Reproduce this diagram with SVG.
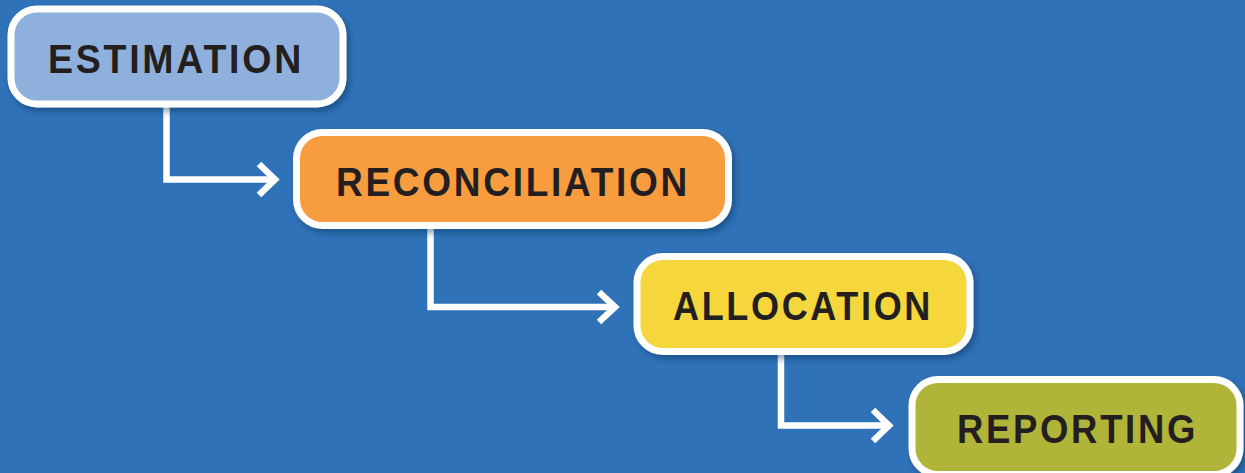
<svg xmlns="http://www.w3.org/2000/svg" width="1245" height="473" viewBox="0 0 1245 473">
<defs>
<filter id="sh" x="-10%" y="-10%" width="130%" height="140%">
<feDropShadow dx="3" dy="4" stdDeviation="3" flood-color="#0a2a55" flood-opacity="0.45"/>
</filter>
<style>
.box{stroke:#ffffff;stroke-width:7;filter:url(#sh)}
.lbl{font-family:"Liberation Sans",Arial,sans-serif;font-weight:bold;font-size:41px;letter-spacing:3px;fill:#231f20}
.con{fill:none;stroke:#ffffff;stroke-width:6.5;stroke-linejoin:miter;stroke-linecap:butt}
</style>
</defs>
<rect x="0" y="0" width="1245" height="473" fill="#3072b8"/>
<g id="connectors">
<path class="con" d="M166.5 107 V179.5 H272"/>
<polyline class="con" points="259,164 275,179.5 259,195"/>
<path class="con" d="M430.5 229 V307 H612"/>
<polyline class="con" points="599,292 615,307 599,322"/>
<path class="con" d="M781 355 V425.5 H887"/>
<polyline class="con" points="873,410 889,425.5 873,441"/>
</g>
<g id="estimation">
<rect class="box" x="11" y="9" width="332" height="95" rx="26" fill="#8fb0dc"/>
<text class="lbl" x="48" y="73" textLength="256" lengthAdjust="spacingAndGlyphs">ESTIMATION</text>
</g>
<g id="reconciliation">
<rect class="box" x="296.5" y="132.5" width="432" height="93" rx="26" fill="#f89c3f"/>
<text class="lbl" x="336" y="196" textLength="354" lengthAdjust="spacingAndGlyphs">RECONCILIATION</text>
</g>
<g id="allocation">
<rect class="box" x="637" y="256.5" width="333" height="95" rx="26" fill="#f5d63d"/>
<text class="lbl" x="673" y="320" textLength="260" lengthAdjust="spacingAndGlyphs">ALLOCATION</text>
</g>
<g id="reporting">
<rect class="box" x="912" y="379.5" width="328" height="95" rx="26" fill="#b0b437"/>
<text class="lbl" x="957" y="443" textLength="241" lengthAdjust="spacingAndGlyphs">REPORTING</text>
</g>
</svg>
